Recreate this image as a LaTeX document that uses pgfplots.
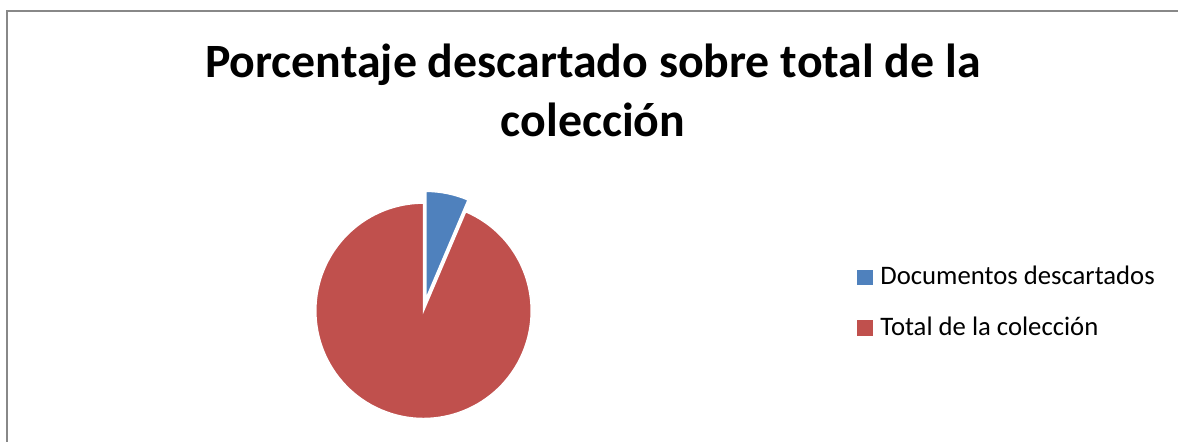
\documentclass[border=0pt]{standalone}
\usepackage{fontspec}
\setmainfont{Carlito}
\usepackage{pgfplots}
\usepackage{pgfplotstable}
\pgfplotsset{compat=1.18}

\definecolor{slice0}{HTML}{4F81BD}
\definecolor{slice1}{HTML}{C0504D}
\definecolor{framegray}{HTML}{888888}

% porcentaje de cada parte; explode = desplazamiento de la porción (px)
\pgfplotstableread{
label value explode
{Documentos descartados} 6.4 12
{Total de la colección} 93.6 0
}\piedata

\begin{document}
\begin{tikzpicture}
\begin{axis}[
    name=ax,
    scale only axis,
    width=1178bp, height=442bp,
    xmin=0, xmax=1178, ymin=0, ymax=442,
    hide axis,
    clip=false,
    legend style={
        draw=none, fill=none, inner sep=0pt, outer sep=0pt,
        at={(axis cs:857,176)}, anchor=north west,
        font=\fontsize{26.8}{32}\selectfont,
        cells={anchor=base west, text height=17bp, text depth=0bp,
               inner ysep=0pt, inner xsep=0pt},
        /tikz/every odd column/.append style={column sep=6bp},
        row sep=28bp,
    },
]
% marco
\draw[framegray, line width=2bp] (axis cs:7,0) -- (axis cs:7,430.5) -- (axis cs:1178,430.5);

% titulo
\node[anchor=base, font=\bfseries\fontsize{48}{56}\selectfont]
    at (axis cs:593,364.7) {Porcentaje descartado sobre total de la};
\node[anchor=base, font=\bfseries\fontsize{48}{56}\selectfont]
    at (axis cs:593,305.3) {colección};

% porciones
\pgfplotsextra{
  \pgfplotstablegetrowsof{\piedata}
  \pgfmathtruncatemacro\lastrow{\pgfplotsretval-1}
  \gdef\angA{90}
  \foreach \i in {0,...,\lastrow}{
    \pgfplotstablegetelem{\i}{value}\of\piedata \let\val\pgfplotsretval
    \pgfplotstablegetelem{\i}{explode}\of\piedata \let\ex\pgfplotsretval
    \pgfmathsetmacro\angB{\angA-3.6*\val}
    \pgfmathsetmacro\angM{(\angA+\angB)/2}
    \pgfmathsetmacro\cx{423.5+\ex*cos(\angM)}
    \pgfmathsetmacro\cy{131.2+\ex*sin(\angM)}
    \filldraw[fill=slice\i, draw=white, line width=1.5bp]
      (axis cs:\cx,\cy) -- ++(\angA:107.7bp)
      arc[start angle=\angA, end angle=\angB, radius=107.7bp] -- cycle;
    \xdef\angA{\angB}
  }
}

\addlegendimage{legend image code/.code={\fill[slice0] (0bp,0.5bp) rectangle (15bp,15bp);}}
\addlegendentry{Documentos descartados}
\addlegendimage{legend image code/.code={\fill[slice1] (0bp,0.5bp) rectangle (15bp,15bp);}}
\addlegendentry{Total de la colección}
\end{axis}
\pgfresetboundingbox
\useasboundingbox (ax.south west) rectangle (ax.north east);
\end{tikzpicture}
\end{document}
